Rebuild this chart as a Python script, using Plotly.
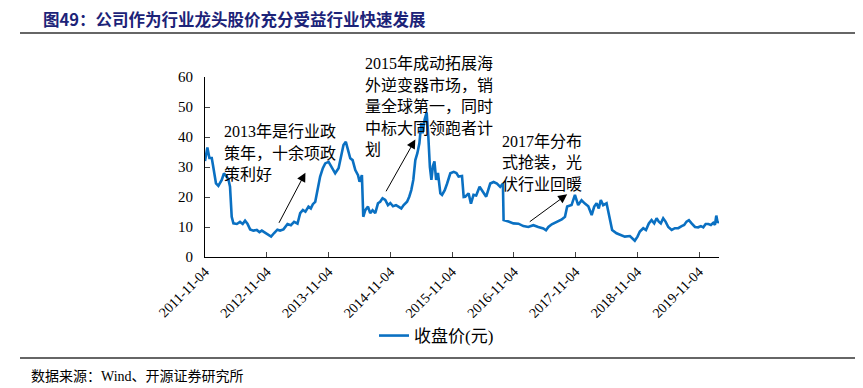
import plotly.graph_objects as go

# ---- data ----
dates = [
    "2011-11-04", "2011-11-18", "2011-11-30", "2011-12-14", "2011-12-23", "2012-01-08", "2012-01-22",
    "2012-02-11", "2012-02-24", "2012-03-11", "2012-03-21", "2012-03-31", "2012-04-10", "2012-04-20",
    "2012-05-10", "2012-05-29", "2012-06-14", "2012-06-28", "2012-07-12", "2012-07-28", "2012-08-16",
    "2012-09-05", "2012-09-21", "2012-10-05", "2012-10-25", "2012-11-13", "2012-11-29", "2012-12-17",
    "2013-01-05", "2013-01-21", "2013-02-10", "2013-03-06", "2013-03-26", "2013-04-14", "2013-05-04",
    "2013-05-20", "2013-06-05", "2013-06-20", "2013-07-08", "2013-07-22", "2013-08-03", "2013-08-17",
    "2013-08-30", "2013-09-15", "2013-10-01", "2013-10-15", "2013-11-04", "2013-11-24", "2013-12-13",
    "2014-01-02", "2014-01-18", "2014-01-31", "2014-02-14", "2014-02-26", "2014-03-12", "2014-03-26",
    "2014-04-11", "2014-04-27", "2014-05-06", "2014-05-20", "2014-05-28", "2014-06-09", "2014-06-25",
    "2014-07-08", "2014-07-22", "2014-08-07", "2014-08-23", "2014-09-05", "2014-09-19", "2014-10-05",
    "2014-10-21", "2014-11-04", "2014-11-20", "2014-12-08", "2014-12-23", "2015-01-08", "2015-01-22",
    "2015-02-11", "2015-02-24", "2015-03-08", "2015-03-20", "2015-04-01", "2015-04-13", "2015-04-25",
    "2015-05-06", "2015-05-14", "2015-05-26", "2015-06-07", "2015-06-17", "2015-06-26", "2015-07-05",
    "2015-07-14", "2015-07-23", "2015-08-02", "2015-08-13", "2015-08-27", "2015-09-06", "2015-09-22",
    "2015-10-06", "2015-10-25", "2015-11-14", "2015-11-30", "2015-12-13", "2016-01-02", "2016-01-12",
    "2016-01-21", "2016-02-10", "2016-02-24", "2016-03-10", "2016-03-26", "2016-04-15", "2016-05-05",
    "2016-05-24", "2016-06-17", "2016-07-07", "2016-07-27", "2016-08-15", "2016-08-31", "2016-09-04",
    "2016-10-03", "2016-11-01", "2016-12-01", "2016-12-30", "2017-01-28", "2017-02-27", "2017-03-28",
    "2017-04-27", "2017-05-13", "2017-05-27", "2017-06-16", "2017-07-15", "2017-08-14", "2017-09-02",
    "2017-09-15", "2017-10-11", "2017-10-31", "2017-11-19", "2017-12-09", "2017-12-29", "2018-01-18",
    "2018-02-07", "2018-02-22", "2018-03-08", "2018-03-21", "2018-04-02", "2018-04-16", "2018-05-06",
    "2018-05-15", "2018-05-25", "2018-06-08", "2018-07-04", "2018-08-02", "2018-08-22", "2018-09-21",
    "2018-10-04", "2018-10-20", "2018-11-05", "2018-11-19", "2018-12-09", "2018-12-25", "2019-01-11",
    "2019-01-27", "2019-02-12", "2019-02-26", "2019-03-11", "2019-03-23", "2019-04-06", "2019-04-20",
    "2019-05-06", "2019-05-26", "2019-06-14", "2019-07-04", "2019-07-24", "2019-08-08", "2019-08-22",
    "2019-09-05", "2019-09-21", "2019-10-11", "2019-10-30", "2019-11-15", "2019-11-29", "2019-12-13",
    "2019-12-29", "2020-01-13", "2020-01-27", "2020-02-06", "2020-02-14", "2020-02-22", "2020-02-28",
]
close_price = [
    32.0, 36.5, 33.0, 33.0, 30.0, 24.5, 23.7,
    25.7, 27.9, 26.8, 26.0, 23.4, 13.4, 11.2,
    11.0, 11.7, 11.0, 12.1, 11.1, 9.2, 8.8,
    9.0, 8.3, 8.8, 8.1, 7.6, 6.8, 8.0,
    9.1, 8.8, 9.2, 11.0, 10.6, 11.7, 11.1,
    14.6, 15.7, 15.1, 16.8, 16.2, 17.6, 18.4,
    22.3, 26.8, 29.6, 31.2, 31.7, 29.6, 27.9,
    29.6, 34.6, 37.3, 38.4, 35.7, 32.9, 32.3,
    29.0, 27.3, 25.1, 27.3, 13.4, 15.6, 16.8,
    14.6, 15.6, 14.6, 17.9, 18.4, 19.6, 19.0,
    17.3, 18.0, 16.9, 17.3, 16.8, 16.2, 17.3,
    18.4, 20.1, 22.3, 25.7, 32.3, 34.6, 37.9,
    44.6, 41.2, 45.8, 48.2, 40.0, 30.0, 25.7,
    30.3, 31.9, 25.7, 28.0, 21.2, 20.7, 22.3,
    24.5, 27.9, 28.4, 28.0, 26.8, 27.0, 20.0,
    20.1, 21.2, 17.8, 20.7, 20.5, 23.4, 21.8,
    20.1, 24.5, 25.0, 24.5, 23.4, 24.5, 12.3,
    11.8, 11.2, 11.1, 10.3, 10.0, 10.6, 10.0,
    9.5, 8.9, 10.0, 10.9, 11.7, 12.5, 13.4,
    16.8, 17.3, 20.7, 17.3, 18.9, 17.8, 16.9,
    14.0, 16.8, 17.9, 16.2, 19.0, 17.3, 17.9,
    15.6, 12.3, 9.0, 7.9, 7.3, 6.8, 7.0,
    6.2, 5.4, 6.8, 8.5, 9.6, 9.0, 11.2,
    12.3, 11.2, 12.9, 11.8, 11.2, 12.9, 11.8,
    10.0, 9.0, 9.6, 9.6, 10.3, 10.7, 11.8,
    12.3, 11.2, 10.0, 9.9, 10.3, 9.9, 11.0,
    11.0, 10.7, 11.4, 10.7, 13.8, 11.4, 12.0,
]
tick_dates = ["2011-11-04", "2012-11-04", "2013-11-04", "2014-11-04", "2015-11-04",
              "2016-11-04", "2017-11-04", "2018-11-04", "2019-11-04"]
series_name = "收盘价(元)"
title_text = "图49：公司作为行业龙头股价充分受益行业快速发展"
source_text = "数据来源：Wind、开源证券研究所"

note_texts = [
    ["2013年是行业政", "策年，十余项政", "策利好"],
    ["2015年成动拓展海", "外逆变器市场，销", "量全球第一，同时", "中标大同领跑者计", "划"],
    ["2017年分布", "式抢装，光", "伏行业回暖"],
]

SERIF = "Liberation Serif, 'Noto Sans CJK SC', serif"
BLUE = "#0A70C2"

# the page body adds an 8px offset; lay out in page pixels and subtract it
OFF = 8
W, H = 863 - OFF, 388 - OFF
L, R, T, B = 205 - OFF, 719 - OFF, 77 - OFF, 257 - OFF

def px(x):
    return (x - OFF - L) / (R - L)

def py(y):
    return (B - (y - OFF)) / (B - T)

fig = go.Figure()
fig.add_trace(go.Scatter(x=dates, y=close_price, mode="lines", name=series_name,
                         line=dict(color=BLUE, width=2.6)))

fig.update_layout(
    width=W, height=H,
    margin=dict(l=L, r=W - R, t=T, b=H - B),
    paper_bgcolor="white", plot_bgcolor="white",
    font=dict(family=SERIF, size=15, color="black"),
    showlegend=True,
    legend=dict(orientation="h", x=px(374), xanchor="left", y=py(336), yanchor="middle",
                font=dict(size=17, family=SERIF), itemwidth=30, bgcolor="rgba(0,0,0,0)"),
)
fig.update_xaxes(
    type="date", range=["2011-11-04", "2020-03-01"],
    tickvals=tick_dates, ticktext=tick_dates, tickangle=-45,
    ticks="inside", ticklen=5, tickcolor="#444", showgrid=False, zeroline=False,
    showline=True, linecolor="black", linewidth=1.2,
    tickfont=dict(size=14, family=SERIF),
)
fig.update_yaxes(
    range=[0, 60], dtick=10, ticks="inside", ticklen=5, tickcolor="#444",
    showgrid=False, zeroline=False, showline=True, linecolor="black", linewidth=1.2,
    tickfont=dict(size=15, family=SERIF), ticklabelstandoff=8,
)

# title, rules and source
fig.add_annotation(text=title_text, xref="paper", yref="paper", x=px(42), y=py(19),
                   xanchor="left", yanchor="middle", showarrow=False, borderpad=0,
                   font=dict(size=16.5, color="#1C2378", family="'Noto Sans CJK SC', sans-serif",
                             weight="bold"))
fig.add_shape(type="line", xref="paper", yref="paper", x0=px(20), x1=px(863), y0=py(33), y1=py(33),
              line=dict(color="#333333", width=1.5))
fig.add_shape(type="line", xref="paper", yref="paper", x0=px(20), x1=px(863), y0=py(358), y1=py(358),
              line=dict(color="#333333", width=1.5))
fig.add_annotation(text=source_text, xref="paper", yref="paper", x=px(30), y=py(376),
                   xanchor="left", yanchor="middle", showarrow=False, borderpad=0,
                   font=dict(size=14, color="black", family=SERIF))

# annotation text blocks (left edge px, first line centre px)
note_pos = [(222, 131.5), (363, 63.5), (500, 141)]
for lines, (lx, ly) in zip(note_texts, note_pos):
    for i, line in enumerate(lines):
        fig.add_annotation(text=line, xref="paper", yref="paper", x=px(lx), y=py(ly + 21.6 * i),
                           xanchor="left", yanchor="middle", showarrow=False,
                           font=dict(size=16, color="black", family=SERIF))

# arrows: (tail date, tail value) -> (head date, head value)
arrow_tail = [("2013-01-10", 10.9), ("2014-10-05", 21.4), ("2017-01-28", 11.4)]
arrow_head = [("2013-06-20", 28.1), ("2015-04-01", 39.2), ("2017-09-15", 20.9)]
for (tx, ty), (hx, hy) in zip(arrow_tail, arrow_head):
    fig.add_annotation(x=hx, y=hy, ax=tx, ay=ty, xref="x", yref="y", axref="x", ayref="y",
                       text="", showarrow=True, arrowhead=2, arrowsize=1.8, arrowwidth=1,
                       arrowcolor="black")

fig.write_html("out.html")
